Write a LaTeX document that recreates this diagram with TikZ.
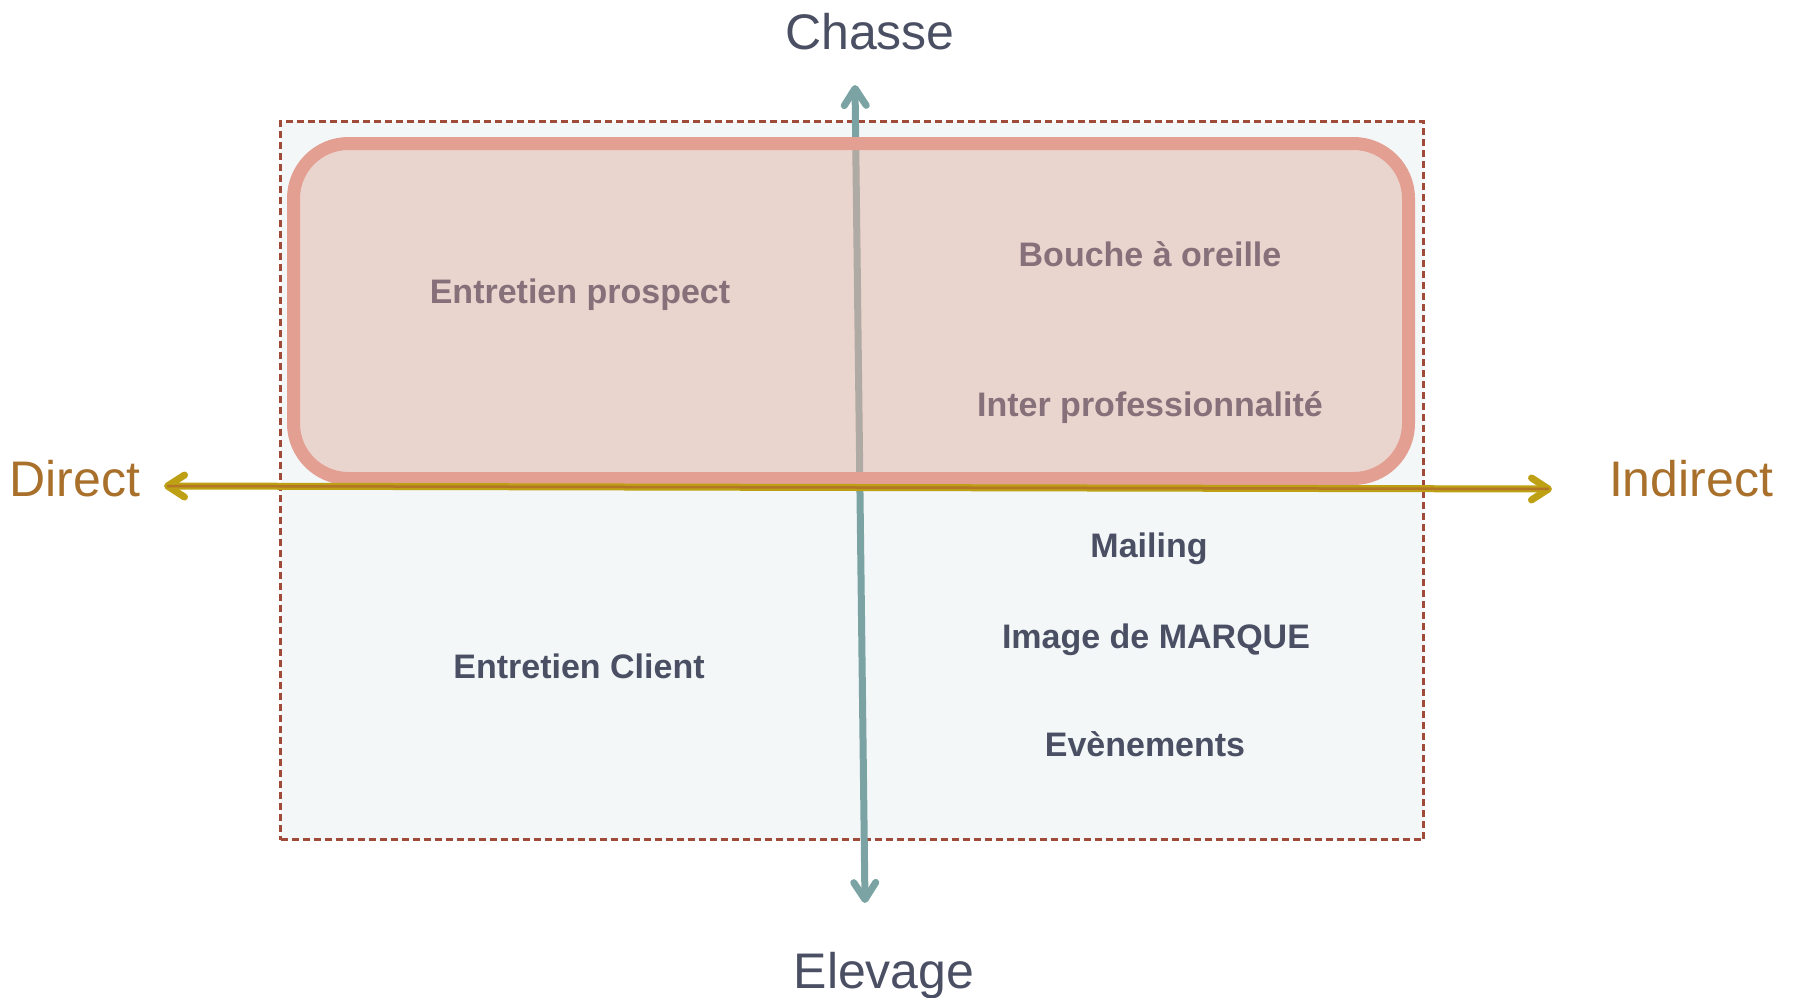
\documentclass[tikz,border=0pt]{standalone}
\usepackage{fontspec}
\setmainfont{Liberation Sans}
\usetikzlibrary{arrows.meta}
\definecolor{axisv}{RGB}{124,163,163}
\definecolor{axish}{RGB}{190,160,20}
\definecolor{axishcore}{RGB}{178,118,36}
\definecolor{labdark}{RGB}{74,79,99}
\definecolor{labbrown}{RGB}{168,112,42}
\definecolor{pinktext}{RGB}{134,113,122}
\definecolor{boxfill}{RGB}{243,247,248}
\definecolor{boxline}{RGB}{160,74,58}
\definecolor{rrfill}{RGB}{227,179,166}
\definecolor{rrline}{RGB}{227,160,146}
\tikzset{
  axislabel/.style={font=\fontsize{50}{56}\selectfont, anchor=base, inner sep=0pt},
  itemlabel/.style={font=\fontsize{34}{40}\selectfont\bfseries, anchor=base, inner sep=0pt},
  mybarb/.tip={Straight Barb[length=17pt,width=22pt,line cap=round,line join=round]},
}
\begin{document}
\begin{tikzpicture}[x=1pt,y=-1pt]
\useasboundingbox (0,0) rectangle (1794,998);
% dashed frame
\node (frame) [draw=boxline, fill=boxfill, line width=3pt, dash pattern=on 7pt off 4pt,
  minimum width=1143pt, minimum height=718pt, inner sep=0pt] at (852,480.5) {};
% axes ends
\coordinate (vt) at (855,85);
\coordinate (vb) at (865,903);
\coordinate (hl) at (164,486);
\coordinate (hr) at (1552,489);
% vertical axis
\draw[axisv, line width=7pt, mybarb-mybarb] (vb) -- (vt);
% rounded rectangle
\node (zone) [draw=rrline, line width=13pt, fill=rrfill, fill opacity=0.5, draw opacity=1,
  rounded corners=55pt, minimum width=1115pt, minimum height=335pt, inner sep=0pt] at (851,311) {};
% horizontal axis
\draw[axish, line width=7pt, mybarb-mybarb] (hl) -- (hr);
\draw[axishcore, line width=2.5pt, shorten <=3pt, shorten >=3pt] (hl) -- (hr);
% axis labels
\node (chasse) [axislabel, text=labdark] at (870,50) {Chasse};
\node (elevage) [axislabel, text=labdark] at (884,988) {Elevage};
\node (direct) [axislabel, text=labbrown] at (75,496) {Direct};
\node (indirect) [axislabel, text=labbrown] at (1691,496) {Indirect};
% items
\node (prospect) [itemlabel, text=pinktext] at (580,303) {Entretien prospect};
\node (bouche) [itemlabel, text=pinktext] at (1150,266) {Bouche à oreille};
\node (inter) [itemlabel, text=pinktext] at (1150,416) {Inter professionnalité};
\node (mailing) [itemlabel, text=labdark] at (1149,557) {Mailing};
\node (image) [itemlabel, text=labdark] at (1156,648) {Image de MARQUE};
\node (even) [itemlabel, text=labdark] at (1145,756) {Evènements};
\node (client) [itemlabel, text=labdark] at (579,678) {Entretien Client};
\end{tikzpicture}
\end{document}
